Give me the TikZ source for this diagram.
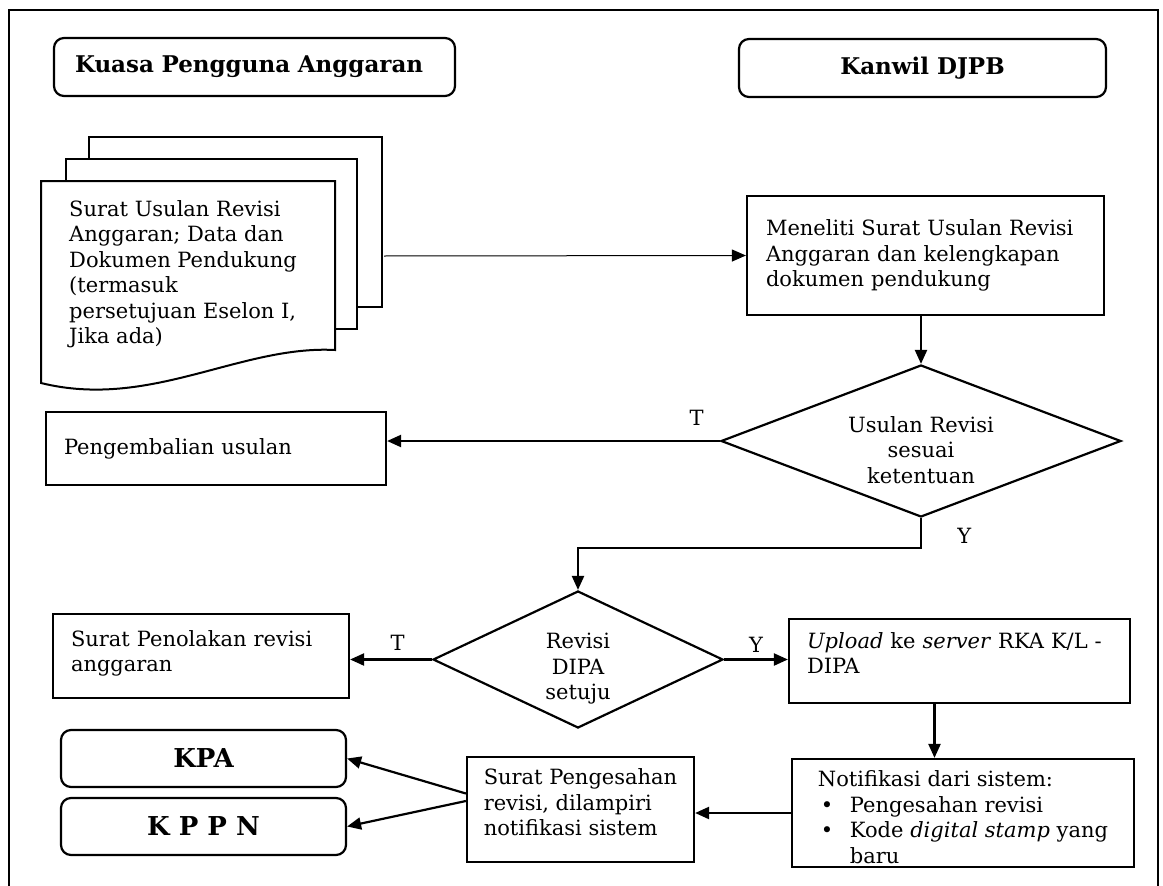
\documentclass[tikz,border=0pt]{standalone}
\usepackage{fontspec}
\setmainfont{DejaVu Serif}
\usetikzlibrary{shapes.geometric, arrows.meta, positioning, calc}
\newcommand{\isifont}{\fontsize{21}{25.5}\selectfont}
\newcommand{\judulfont}{\fontsize{23}{27}\selectfont\bfseries}
\newcommand{\tujuanfont}{\fontsize{26}{30}\selectfont\bfseries}
% invisible struts to nudge text inside a box
\newcommand{\atas}[1]{\rule{0pt}{#1}}
\newcommand{\bawah}[1]{\rule[-#1]{0pt}{0pt}}

\begin{document}
\begin{tikzpicture}[x=1pt, y=-1pt, every node/.style={font=\isifont},
		prosesbox/.style={draw, line width=2.2pt, align=left, inner sep=0pt},
		judulbox/.style={draw, line width=2.2pt, rounded corners=10pt, inner sep=0pt, font=\judulfont},
		tujuanbox/.style={judulbox, minimum width=285pt, minimum height=57pt, font=\tujuanfont},
		keputusan/.style={diamond, draw, line width=2.2pt, align=center, inner sep=0pt},
		dok/.style={draw, line width=2pt, fill=white},
		panah/.style={line width=2.2pt, -{Triangle[length=14pt,width=12pt]}},
		panahtipis/.style={line width=1pt, -{Triangle[length=14pt,width=12pt]}}]
		\useasboundingbox (0,0) rectangle (1163,886);
		% outer frame (cut at the bottom)
		\draw[line width=2.2pt] (9,886) -- (9,10) -- (1158,10) -- (1158,886);
		% lane headers
		\node[judulbox, minimum width=401pt, minimum height=58pt, text width=359pt, align=left] (hdrKuasa) at (254.5,67) {Kuasa Pengguna Anggaran};
		\node[judulbox, minimum width=367pt, minimum height=58pt] (hdrKanwil) at (922.5,68) {Kanwil DJPB};
		% stacked documents
		\draw[dok] (89,137) rectangle (382,307);
		\draw[dok] (66,159) rectangle (357,329);
		\draw[dok] (41,181) -- (335,181) -- (335,350)
			.. controls (240,345) and (150,410) .. (41,383) -- cycle;
		\node[align=left, inner sep=0pt, anchor=north west] (usulan) at (69,200)
			{Surat Usulan Revisi\\Anggaran; Data dan\\Dokumen Pendukung\\(termasuk\\persetujuan Eselon I,\\Jika ada)};
		\coordinate (dokkanan) at (384,256);
		% Kanwil steps
		\node[prosesbox, minimum width=357pt, minimum height=119pt, text width=319pt] (meneliti) at (925.5,255.5)
			{Meneliti Surat Usulan Revisi\\Anggaran dan kelengkapan\\dokumen pendukung};
		\node[keputusan, aspect=2.6, minimum width=400pt, minimum height=152pt] (cek) at (921,441)
			{\atas{34pt}Usulan Revisi\\sesuai\\ketentuan};
		\node[prosesbox, minimum width=340pt, minimum height=73pt, text width=304pt] (kembali) at (216,448.5)
			{Pengembalian usulan};
		\node[keputusan, aspect=2.1, minimum width=290pt, minimum height=137pt] (dipa) at (578,659.5)
			{\atas{34pt}Revisi\\DIPA\\setuju};
		\node[prosesbox, minimum width=296pt, minimum height=84pt, text width=260pt] (tolak) at (201,656)
			{Surat Penolakan revisi\\anggaran\bawah{10pt}};
		\node[prosesbox, minimum width=341pt, minimum height=84pt, text width=305pt] (unggah) at (959.5,661)
			{\textit{Upload} ke \textit{server} RKA K/L -\\DIPA\bawah{16pt}};
		\node[prosesbox, minimum width=342pt, minimum height=108pt] (notif) at (963,813)
			{\atas{24pt}Notifikasi dari sistem:\\
			\makebox[32pt][l]{\hspace{3pt}\textbullet}Pengesahan revisi\\
			\makebox[32pt][l]{\hspace{3pt}\textbullet}Kode \textit{digital stamp} yang\\
			\hspace*{32pt}baru};
		\node[prosesbox, minimum width=227pt, minimum height=105pt] (sah) at (580.5,809.5)
			{Surat Pengesahan\\revisi, dilampiri\\notifikasi sistem\bawah{14pt}};
		% recipients
		\node[tujuanbox] (kpa) at (203.5,758.5) {KPA};
		\node[tujuanbox] (kppn) at (203.5,826.5) {K P P N};
		% connectors
		\draw[panahtipis] (dokkanan) -- (meneliti.west);
		\draw[panah] (cek.north |- meneliti.south) -- (cek.north);
		\draw[panah] (cek.west) -- node[pos=.07, above=11pt] (tidak1) {T} (cek.west -| kembali.east);
		\draw[panah] (cek.south) -- node[pos=.6, right=32pt] (ya1) {Y} ++(0,30) -| (dipa.north);
		\draw[panah] (dipa.west) -- node[pos=.42, above=5pt] (tidak2) {T} (dipa.west -| tolak.east);
		\draw[panah] (dipa.east) -- node[pos=.5, above=3pt] (ya2) {Y} (dipa.east -| unggah.west);
		\draw[panah] ([xshift=-25pt]unggah.south) -- ([xshift=-25pt]unggah.south |- notif.north);
		\draw[panah] (notif.west) -- (notif.west -| sah.east);
		\draw[panah] ([yshift=16pt]sah.west) -- (kpa.east);
		\draw[panah] ([yshift=8.5pt]sah.west) -- (kppn.east);
	\end{tikzpicture}
\end{document}
